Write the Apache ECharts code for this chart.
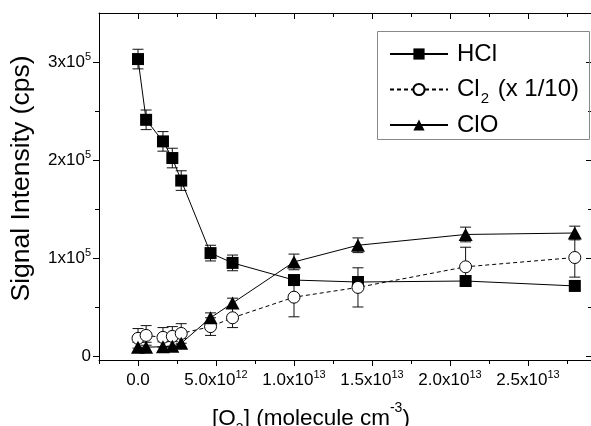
<!DOCTYPE html>
<html>
<head>
<meta charset="utf-8">
<script src="https://cdn.jsdelivr.net/npm/echarts@6/dist/echarts.min.js"></script>
<style>
html,body{margin:0;padding:0;background:#fff;}
#chart{width:591px;height:426px;}
</style>
</head>
<body>
<div id="chart"></div>
<script>
// ---- data ----
const o3Values = [0, 0.52e12, 1.6e12, 2.2e12, 2.77e12, 4.65e12, 6.06e12, 1.0e13, 1.41e13, 2.1e13, 2.8e13];
const hclValues = [303000, 241000, 219000, 202000, 179000, 105000, 95000, 77500, 75500, 76500, 71500];
const hclErrors = [10000, 10000, 10000, 10000, 10000, 8000, 8000, 5000, 5000, 4000, 4000];
const cl2Values = [18000, 21000, 19000, 20000, 23000, 30000, 39000, 60000, 70000, 91000, 100500];
const cl2Errors = [10000, 10000, 10000, 10000, 10000, 9000, 10000, 20000, 20000, 20000, 20000];
const cloValues = [9000, 9000, 9500, 10000, 13000, 39000, 54000, 96000, 113000, 124000, 125500];
const cloErrors = [5000, 5000, 5000, 5000, 5000, 5000, 5000, 8000, 7500, 7500, 7000];
const seriesNames = ['HCl', 'Cl2 (x 1/10)', 'ClO'];

const xMajorTicks = [0, 5e12, 1e13, 1.5e13, 2e13, 2.5e13];
const xMinorTicks = [-2.5e12, 2.5e12, 7.5e12, 1.25e13, 1.75e13, 2.25e13, 2.75e13];
const yMajorTicks = [0, 1e5, 2e5, 3e5];
const yMinorTicks = [5e4, 1.5e5, 2.5e5];
const xTickLabels = ['{m|0.0}', '{m|5.0x10}{p|12}', '{m|1.0x10}{p|13}', '{m|1.5x10}{p|13}', '{m|2.0x10}{p|13}', '{m|2.5x10}{p|13}'];
const yTickLabels = ['{m|0}', '{m|1x10}{p|5}', '{m|2x10}{p|5}', '{m|3x10}{p|5}'];

// ---- layout ----
const XMIN = -2.5e12, XMAX = 2.9038e13;
const YMIN = -4082, YMAX = 350000;
const FONT = 'Liberation Sans, Arial, sans-serif';

const chart = echarts.init(document.getElementById('chart'), null, {renderer: 'canvas'});

function pairs(xs, ys) { return xs.map((x, i) => [x, ys[i]]); }
function errData(xs, ys, es) { return xs.map((x, i) => [x, ys[i], es[i]]); }

function errorSeries(data) {
  return {
    type: 'custom',
    xAxisIndex: 0, yAxisIndex: 0,
    z: 1,
    silent: true,
    data: data,
    renderItem: function (params, api) {
      const x = api.value(0), y = api.value(1), e = api.value(2);
      const top = api.coord([x, y + e]);
      const bot = api.coord([x, y - e]);
      const hw = 5.5;
      const st = {stroke: '#111', lineWidth: 1};
      return {
        type: 'group',
        children: [
          {type: 'line', shape: {x1: top[0], y1: top[1], x2: bot[0], y2: bot[1]}, style: st},
          {type: 'line', shape: {x1: top[0] - hw, y1: top[1], x2: top[0] + hw, y2: top[1]}, style: st},
          {type: 'line', shape: {x1: bot[0] - hw, y1: bot[1], x2: bot[0] + hw, y2: bot[1]}, style: st}
        ]
      };
    }
  };
}

const labelRich = {
  m: {fontSize: 17, fontFamily: FONT, color: '#000', lineHeight: 19},
  p: {fontSize: 11, fontFamily: FONT, color: '#000', padding: [0, 0, 11, 0], lineHeight: 19}
};

function xFmt(v) {
  const i = xMajorTicks.findIndex(t => Math.abs(t - v) < 1e9);
  return i >= 0 ? xTickLabels[i] : '';
}
function yFmt(v) {
  const i = yMajorTicks.findIndex(t => Math.abs(t - v) < 1);
  return i >= 0 ? yTickLabels[i] : '';
}

const axisLineStyle = {show: true, onZero: false, lineStyle: {color: '#000', width: 1}};
const hiddenLine = {show: false, onZero: false};

const option = {
  animation: false,
  backgroundColor: '#fff',
  grid: {left: 99, right: 0, top: 13, bottom: 66, containLabel: false, outerBoundsMode: 'none'},
  xAxis: [
    {
      type: 'value', position: 'bottom', min: XMIN, max: XMAX,
      axisLine: axisLineStyle,
      axisTick: {show: true, inside: false, length: 6, customValues: xMajorTicks, lineStyle: {color: '#000'}},
      axisLabel: {show: true, customValues: xMajorTicks, formatter: xFmt, margin: 11,
        fontSize: 17, fontFamily: FONT, color: '#000', lineHeight: 19, rich: labelRich},
      splitLine: {show: false},
      name: '[O{sub|3}] (molecule cm{sup|-3})',
      nameLocation: 'middle', nameGap: 45,
      nameTextStyle: {fontSize: 22.5, fontFamily: FONT, color: '#000', lineHeight: 28, padding: [0, 68, 0, 0],
        rich: {
          sub: {fontSize: 14, fontFamily: FONT, color: '#000', padding: [20, 0, 0, 0], lineHeight: 28},
          sup: {fontSize: 14, fontFamily: FONT, color: '#000', padding: [0, 0, 22, 0], lineHeight: 28}
        }}
    },
    {
      type: 'value', position: 'bottom', min: XMIN, max: XMAX,
      axisLine: hiddenLine,
      axisTick: {show: true, inside: false, length: 4, customValues: xMinorTicks, lineStyle: {color: '#000'}},
      axisLabel: {show: false}, splitLine: {show: false}
    },
    {
      type: 'value', position: 'top', min: XMIN, max: XMAX,
      axisLine: axisLineStyle,
      axisTick: {show: true, inside: true, length: 6, customValues: xMajorTicks, lineStyle: {color: '#000'}},
      axisLabel: {show: false}, splitLine: {show: false}
    },
    {
      type: 'value', position: 'top', min: XMIN, max: XMAX,
      axisLine: hiddenLine,
      axisTick: {show: true, inside: true, length: 4, customValues: xMinorTicks, lineStyle: {color: '#000'}},
      axisLabel: {show: false}, splitLine: {show: false}
    }
  ],
  yAxis: [
    {
      type: 'value', position: 'left', min: YMIN, max: YMAX,
      axisLine: axisLineStyle,
      axisTick: {show: true, inside: false, length: 6, customValues: yMajorTicks, lineStyle: {color: '#000'}},
      axisLabel: {show: true, customValues: yMajorTicks, formatter: yFmt, margin: 8,
        fontSize: 17, fontFamily: FONT, color: '#000', lineHeight: 19, rich: labelRich},
      splitLine: {show: false},
      name: 'Signal Intensity (cps)',
      nameLocation: 'middle', nameGap: 54, nameRotate: 90,
      nameTextStyle: {fontSize: 26.5, fontFamily: FONT, color: '#000', lineHeight: 30, padding: [0, 0, 0, 16]}
    },
    {
      type: 'value', position: 'left', min: YMIN, max: YMAX,
      axisLine: hiddenLine,
      axisTick: {show: true, inside: false, length: 4, customValues: yMinorTicks, lineStyle: {color: '#000'}},
      axisLabel: {show: false}, splitLine: {show: false}
    },
    {
      type: 'value', position: 'right', min: YMIN, max: YMAX,
      axisLine: hiddenLine,
      axisTick: {show: true, inside: true, length: 5, customValues: yMajorTicks, lineStyle: {color: '#000'}},
      axisLabel: {show: false}, splitLine: {show: false}
    },
    {
      type: 'value', position: 'right', min: YMIN, max: YMAX,
      axisLine: hiddenLine,
      axisTick: {show: true, inside: true, length: 3, customValues: yMinorTicks, lineStyle: {color: '#000'}},
      axisLabel: {show: false}, splitLine: {show: false}
    }
  ],
  legend: {
    show: true, orient: 'vertical', left: 389, top: 41, padding: 0,
    itemWidth: 58, itemHeight: 14, itemGap: 6,
    data: seriesNames,
    formatter: function (name) {
      return name === 'Cl2 (x 1/10)' ? '{t|Cl}{sub|2}{t| (x 1/10)}' : '{t|' + name + '}';
    },
    textStyle: {fontSize: 24, fontFamily: FONT, color: '#000', lineHeight: 26, padding: [0, 0, 0, 4],
      rich: {
        t: {fontSize: 24, fontFamily: FONT, color: '#000', lineHeight: 26},
        sub: {fontSize: 15, fontFamily: FONT, color: '#000', padding: [18, 2, 0, 1], lineHeight: 26}
      }}
  },
  graphic: [
    {type: 'rect', left: 375, top: 29, z: 100, silent: true,
      shape: {x: 0.5, y: 0.5, width: 212, height: 108},
      style: {fill: 'none', stroke: '#888', lineWidth: 1}}
  ],
  series: [
    errorSeries(errData(o3Values, hclValues, hclErrors)),
    errorSeries(errData(o3Values, cl2Values, cl2Errors)),
    errorSeries(errData(o3Values, cloValues, cloErrors)),
    {
      name: seriesNames[0], type: 'line', xAxisIndex: 0, yAxisIndex: 0, z: 3,
      data: pairs(o3Values, hclValues),
      symbol: 'rect', symbolSize: 12, showAllSymbol: true,
      itemStyle: {color: '#000'},
      lineStyle: {color: '#000', width: 1}
    },
    {
      name: seriesNames[1], type: 'line', xAxisIndex: 0, yAxisIndex: 0, z: 4,
      data: pairs(o3Values, cl2Values),
      symbol: 'circle', symbolSize: 12, showAllSymbol: true,
      itemStyle: {color: '#fff', borderColor: '#000', borderWidth: 1},
      lineStyle: {color: '#000', width: 1, type: [4, 3]}
    },
    {
      name: seriesNames[2], type: 'line', xAxisIndex: 0, yAxisIndex: 0, z: 5,
      data: pairs(o3Values, cloValues),
      symbol: 'triangle', symbolSize: [14, 13], showAllSymbol: true,
      itemStyle: {color: '#000'},
      lineStyle: {color: '#000', width: 1}
    }
  ]
};
chart.setOption(option);
</script>
</body>
</html>
